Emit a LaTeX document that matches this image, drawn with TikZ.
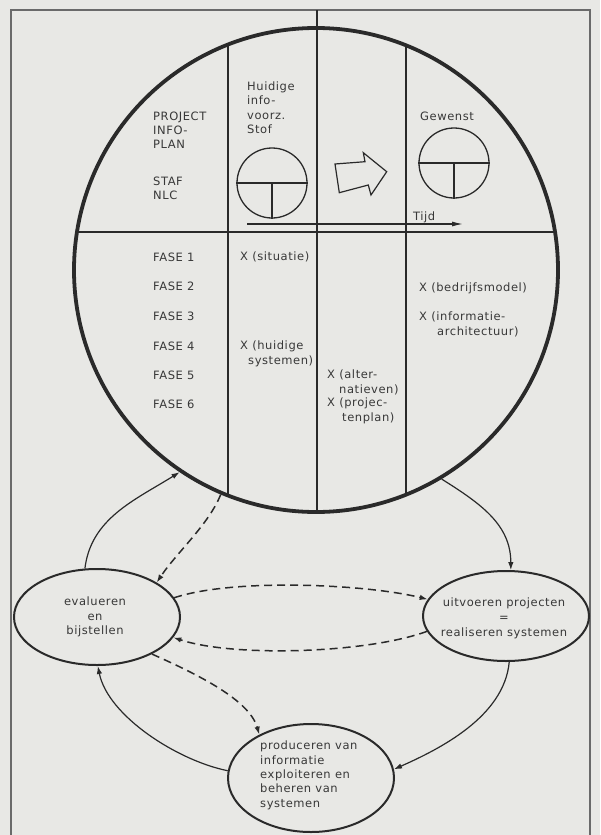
\documentclass[tikz,border=0pt]{standalone}
\usepackage{fontspec}
\setmainfont{DejaVu Sans}[LetterSpace=5]
\usetikzlibrary{shapes.geometric,arrows.meta}
\definecolor{paper}{HTML}{E8E8E5}
\definecolor{ink}{HTML}{2A2A2A}
\definecolor{txt}{HTML}{383838}
\definecolor{framec}{HTML}{6A6A6A}
\begin{document}
\begin{tikzpicture}[x=1pt,y=-1pt,
  lbl/.style={inner sep=0pt, anchor=north west, align=left, text=txt, font=\fontsize{11.5}{14.3}\selectfont},
  ctext/.style={inner sep=0pt, align=center, text=txt, font=\fontsize{11.5}{14.5}\selectfont},
  thinline/.style={draw=ink, line width=1.2pt},
  bubble/.style={ellipse, draw=ink, line width=2pt, inner sep=0pt},
  solidarrow/.style={draw=ink, line width=1.2pt, -{Latex[length=8pt,width=5.5pt]}},
  dasharrow/.style={draw=ink, line width=1.5pt, dash pattern=on 8pt off 5pt, -{Latex[length=8pt,width=5.5pt]}}
]
% background and frame
\fill[paper] (0,0) rectangle (600,835);
\useasboundingbox (0,0) rectangle (600,835);
\draw[framec, line width=1.8pt] (11,835) -- (11,10) -- (590,10) -- (590,835);

% big circle
\node[circle, draw=ink, line width=3.8pt, minimum size=484pt, inner sep=0pt] (C) at (316,270) {};

% grid lines inside
\draw[thinline] (317,10) -- (317,512);
\draw[thinline] (228,44.6) -- (228,495.4);
\draw[thinline] (406,45.4) -- (406,494.6);
\draw[thinline] (77,232) -- (555,232);

% small circles
\node[circle, draw=ink, line width=1.3pt, minimum size=70pt, inner sep=0pt] (S1) at (272,183) {};
\draw[thinline] (S1.west) -- (S1.east);
\draw[thinline] (S1.center) -- (S1.south);
\node[circle, draw=ink, line width=1.3pt, minimum size=70pt, inner sep=0pt] (S2) at (454,163) {};
\draw[thinline] (S2.west) -- (S2.east);
\draw[thinline] (S2.center) -- (S2.south);

% block arrow
\draw[thinline, line join=miter] (335,164) -- (339.3,192.7) -- (368.3,185) -- (371,195) -- (386.7,171.7) -- (363.3,152.7) -- (365,161.7) -- cycle;

% time arrow
\coordinate (t0) at (247,224);
\coordinate (t1) at (463,224);
\draw[thinline, -{Latex[length=11pt,width=5pt]}] (t0) -- (t1);

% texts upper half
\node[lbl] (proj) at (153,111.5) {PROJECT\\INFO-\\PLAN};
\node[lbl] (staf) at (153,176.5) {STAF\\NLC};
\node[lbl] (huid) at (247,81.5) {Huidige\\info-\\voorz.\\Stof};
\node[lbl] (gew) at (420,111.5) {Gewenst};
\node[lbl] (tijd) at (413,211.5) {Tijd};

% phases
\node[lbl] (f1) at (153,252.5) {FASE 1};
\node[lbl] (f2) at (153,281.5) {FASE 2};
\node[lbl] (f3) at (153,311.5) {FASE 3};
\node[lbl] (f4) at (153,341.5) {FASE 4};
\node[lbl] (f5) at (153,370.5) {FASE 5};
\node[lbl] (f6) at (153,399.5) {FASE 6};

\node[lbl] (x1) at (240,252) {X (situatie)};
\node[lbl] (x4) at (240,341) {X (huidige\\\hspace*{8pt}systemen)};
\node[lbl] (x5) at (327,370) {X (alter-\\\hspace*{12pt}natieven)};
\node[lbl] (x6) at (327,398) {X (projec-\\\hspace*{15pt}tenplan)};
\node[lbl] (x2) at (419,283) {X (bedrijfsmodel)};
\node[lbl] (x3) at (419,312) {X (informatie-\\\hspace*{18pt}architectuur)};

% bubbles
\node[bubble, minimum width=166pt, minimum height=96pt] (E) at (97,617) {};
\node[bubble, minimum width=166pt, minimum height=90pt] (U) at (506,616) {};
\node[bubble, minimum width=166pt, minimum height=108pt] (P) at (311,778) {};
\node[ctext] (Et) at (95,617) {evalueren\\en\\bijstellen};
\node[ctext, font=\fontsize{11.5}{15}\selectfont] (Ut) at (504,618) {uitvoeren projecten\\=\\realiseren systemen};
\node[lbl] (Pt) at (260,741) {produceren van\\informatie\\exploiteren en\\beheren van\\systemen};

% connectors
\draw[solidarrow] (E.104) .. controls +(6,-50) and +(-45,28) .. (C.236);
\draw[dasharrow] (C.247) .. controls +(-12,30) and +(20,-30) .. (E.30);
\draw[solidarrow] (C.301) .. controls +(40,25) and +(0,-45) .. (U.84);
\draw[dasharrow] (E.14) .. controls +(60,-20) and +(-60,-15) .. (U.168);
\draw[dasharrow] (U.191) .. controls +(-60,22) and +(60,20) .. (E.345);
\draw[dasharrow] (E.326) .. controls +(45,20) and +(-10,-35) .. (P.140);
\draw[solidarrow] (U.274) .. controls +(-5,55) and +(45,-20) .. (P.6);
\draw[solidarrow] (P.175) .. controls +(-50,-10) and +(10,50) .. (E.271);
\end{tikzpicture}
\end{document}
